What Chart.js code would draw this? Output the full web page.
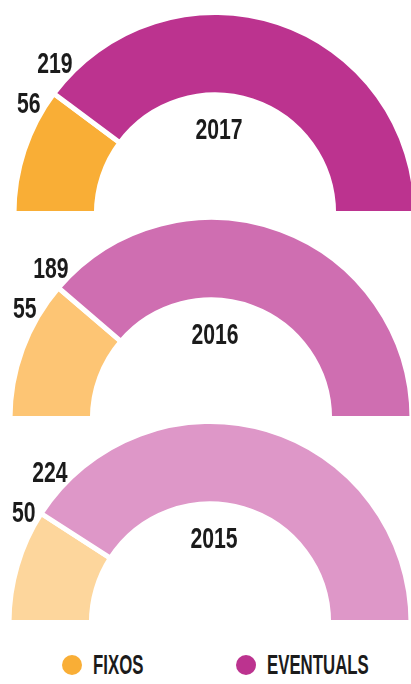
<!DOCTYPE html>
<html>
<head>
<meta charset="utf-8">
<script src="https://cdn.jsdelivr.net/npm/chart.js@4"></script>
<style>
  html, body { margin: 0; padding: 0; background: #fff; overflow: hidden; }
  body { width: 411px; height: 684px; position: relative; }
  .gauge { position: absolute; width: 408px; height: 206px; }
  .legend-item {
    position: absolute; top: 653px; height: 24px;
    display: flex; align-items: center;
    font: bold 28px 'Liberation Sans', sans-serif; color: #1b1b1b;
  }
  .legend-dot { width: 20px; height: 20px; border-radius: 50%; margin-right: 11px; flex: none; }
  .legend-text { display: inline-block; transform: scaleX(0.6); transform-origin: left center; line-height: 24px; }
</style>
</head>
<body>
<div class="gauge" style="left:11px; top:10px;"><canvas id="g2017" width="408" height="206"></canvas></div>
<div class="gauge" style="left:7px; top:215px;"><canvas id="g2016" width="408" height="206"></canvas></div>
<div class="gauge" style="left:6px; top:419px;"><canvas id="g2015" width="408" height="206"></canvas></div>
<div id="legend"></div>

<script>
// data, one entry per gauge (top to bottom)
const years = ['2017', '2016', '2015'];
const fixos = [56, 55, 50];
const eventuals = [219, 189, 224];
const seriesLabels = ['FIXOS', 'EVENTUALS'];

// palette per year: [fixos, eventuals]
const yearColors = [
  ['#F9AE36', '#BC338F'],
  ['#FDC574', '#CF6EB1'],
  ['#FDD69C', '#DE97C8'],
];
const legendColors = ['#F9AE36', '#BC338F'];

const LABEL_FONT = "bold 29px 'Liberation Sans', sans-serif";
const TEXT_COLOR = '#1b1b1b';

function drawNarrow(ctx, text, x, y) {
  // y is the visual middle of the digits
  ctx.save();
  ctx.translate(x, y + 10.5);
  ctx.scale(0.73, 1);
  ctx.font = LABEL_FONT;
  ctx.fillStyle = TEXT_COLOR;
  ctx.textAlign = 'center';
  ctx.textBaseline = 'alphabetic';
  ctx.fillText(text, 0, 0);
  ctx.restore();
}

const gaugeLabels = {
  id: 'gaugeLabels',
  afterDatasetsDraw(chart, args, opts) {
    const arc = chart.getDatasetMeta(0).data[0];
    if (!arc) return;
    const { x, y, outerRadius } = arc.getProps(['x', 'y', 'outerRadius'], true);
    const ctx = chart.ctx;
    const values = chart.data.datasets[0].data;

    // year in the middle of the gauge
    drawNarrow(ctx, opts.year, x + 4, y - 85.5);

    // fixos value, low on the left side
    const a1 = (30.7 * Math.PI) / 180;
    const r1 = outerRadius + 15.5;
    drawNarrow(ctx, String(values[0]), x - r1 * Math.cos(a1), y - r1 * Math.sin(a1));

    // eventuals value, just above it
    const a2 = (43.3 * Math.PI) / 180;
    const r2 = outerRadius + 19;
    drawNarrow(ctx, String(values[1]), x - r2 * Math.cos(a2), y - r2 * Math.sin(a2));
  },
};

function renderGauge(canvasId, i) {
  return new Chart(document.getElementById(canvasId), {
    type: 'doughnut',
    data: {
      labels: seriesLabels,
      datasets: [
        {
          data: [fixos[i], eventuals[i]],
          backgroundColor: yearColors[i],
          borderColor: '#ffffff',
          borderWidth: 5,
        },
      ],
    },
    options: {
      responsive: false,
      animation: false,
      events: [],
      rotation: -90,
      circumference: 180,
      cutout: '59%',
      layout: { padding: 0 },
      plugins: {
        legend: { display: false },
        tooltip: { enabled: false },
        gaugeLabels: { year: years[i] },
      },
    },
    plugins: [gaugeLabels],
  });
}

years.forEach((yr, i) => renderGauge('g' + yr, i));

// legend
const legendLefts = [62, 236];
const legend = document.getElementById('legend');
seriesLabels.forEach((name, i) => {
  const item = document.createElement('div');
  item.className = 'legend-item';
  item.style.left = legendLefts[i] + 'px';
  item.innerHTML =
    '<span class="legend-dot" style="background:' + legendColors[i] + '"></span>' +
    '<span class="legend-text">' + name + '</span>';
  legend.appendChild(item);
});
</script>
</body>
</html>
